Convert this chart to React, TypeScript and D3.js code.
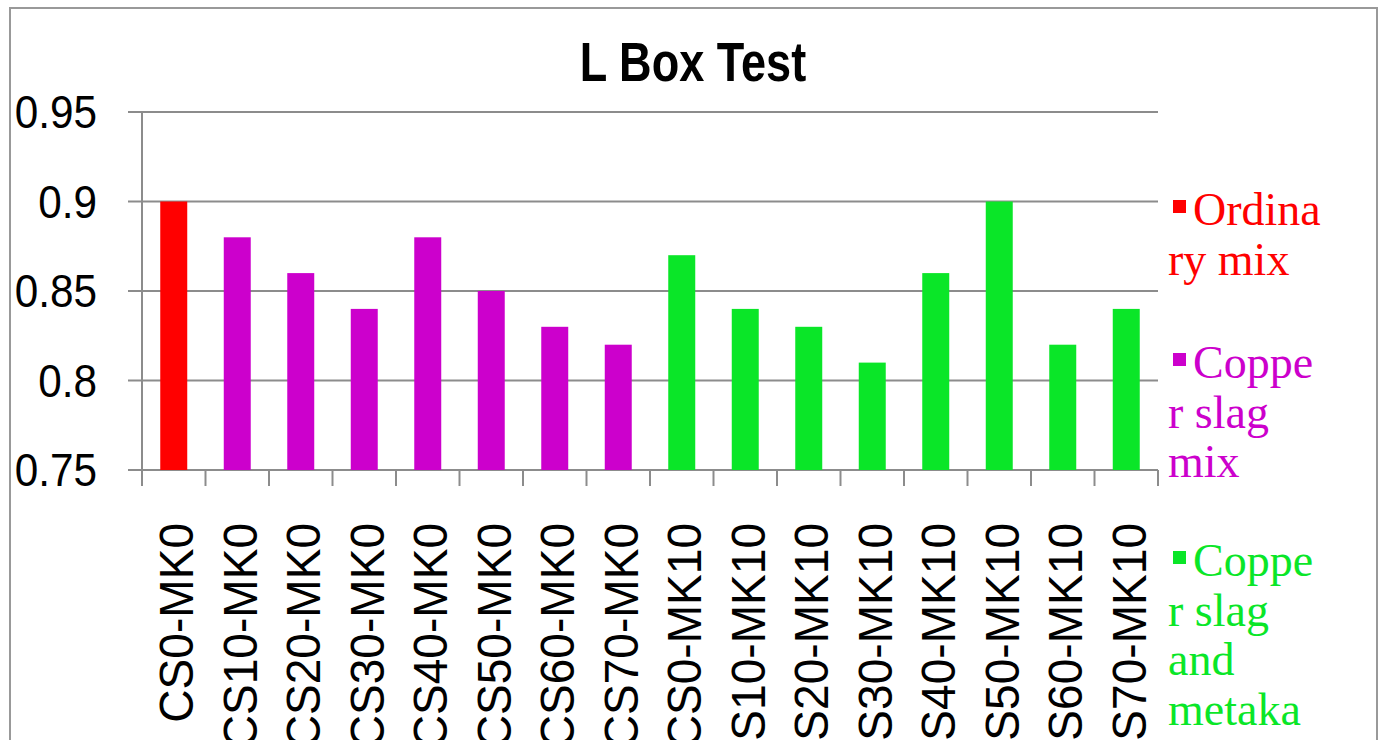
import React from "react";
import * as d3 from "d3";

const categories = [
  "CS0-MK0", "CS10-MK0", "CS20-MK0", "CS30-MK0", "CS40-MK0", "CS50-MK0", "CS60-MK0", "CS70-MK0",
  "CS0-MK10", "CS10-MK10", "CS20-MK10", "CS30-MK10", "CS40-MK10", "CS50-MK10", "CS60-MK10", "CS70-MK10",
];
const values = [0.9, 0.88, 0.86, 0.84, 0.88, 0.85, 0.83, 0.82, 0.87, 0.84, 0.83, 0.81, 0.86, 0.9, 0.82, 0.84];
const groups = [0, 1, 1, 1, 1, 1, 1, 1, 2, 2, 2, 2, 2, 2, 2, 2];
const groupColors = ["#FF0000", "#CC00CC", "#0AE628"];
const legendLines = [
  ["Ordina", "ry mix"],
  ["Coppe", "r slag", "mix"],
  ["Coppe", "r slag", "and", "metaka", "olin mix"],
];
const yTicks = [0.75, 0.8, 0.85, 0.9, 0.95];
const yTickLabels = ["0.75", "0.8", "0.85", "0.9", "0.95"];
const title = "L Box Test";

export default function App() {
  const W = 1379, H = 740;
  const left = 142, right = 1158, top = 112, bottom = 470;
  const x = d3.scaleBand<string>().domain(categories).range([left, right]).paddingInner(0.575).paddingOuter(0.2875);
  const y = d3.scaleLinear().domain([0.75, 0.95]).range([bottom, top]);
  const step = x.step();
  const boundaries = d3.range(categories.length + 1).map((i) => left + i * step);
  const axisColor = "#8c8c8c";
  const sans = "'Liberation Sans', Arial, sans-serif";
  const serif = "'Liberation Serif', 'Times New Roman', serif";
  const legendBaselines = [225, 378, 576];
  const lh = 49.5;

  return (
    <svg width={W} height={H} style={{ position: "absolute", left: 0, top: 0, background: "#fff" }}>
      <rect x={10} y={8} width={1367} height={800} fill="#fff" stroke="#999" strokeWidth={2} />
      <text
        transform={`translate(693,81) scale(0.82,1)`}
        textAnchor="middle"
        fontFamily={sans}
        fontWeight="bold"
        fontSize={55}
      >
        {title}
      </text>
      {yTicks.map((t, i) => (
        <g key={t}>
          <line x1={128} x2={right} y1={y(t)} y2={y(t)} stroke={axisColor} strokeWidth={2} />
          <text
            transform={`translate(97,${y(t)}) scale(0.9,1)`}
            textAnchor="end"
            dy="0.35em"
            fontFamily={sans}
            fontSize={47}
            fill="#000"
          >
            {yTickLabels[i]}
          </text>
        </g>
      ))}
      <line x1={left} x2={left} y1={top} y2={486} stroke={axisColor} strokeWidth={2} />
      {boundaries.map((bx, i) => (
        <line key={i} x1={bx} x2={bx} y1={bottom} y2={486} stroke={axisColor} strokeWidth={2} />
      ))}
      {categories.map((c, i) => (
        <rect
          key={c}
          x={x(c)}
          width={x.bandwidth()}
          y={y(values[i])}
          height={bottom - y(values[i])}
          fill={groupColors[groups[i]]}
        />
      ))}
      {categories.map((c) => (
        <text
          key={c}
          transform={`translate(${(x(c) as number) + x.bandwidth() / 2 + 2},523) rotate(-90) scale(0.96,1)`}
          textAnchor="end"
          dy="0.36em"
          fontFamily={sans}
          fontSize={48}
          fill="#000"
        >
          {c}
        </text>
      ))}
      {legendLines.map((lines, gi) => (
        <g key={gi} fill={groupColors[gi]}>
          <rect x={1173} y={legendBaselines[gi] - 25} width={13} height={13} />
          {lines.map((ln, li) => (
            <text
              key={li}
              x={li === 0 ? 1193 : 1168}
              y={legendBaselines[gi] + li * lh}
              fontFamily={serif}
              fontSize={46}
            >
              {ln}
            </text>
          ))}
        </g>
      ))}
    </svg>
  );
}
